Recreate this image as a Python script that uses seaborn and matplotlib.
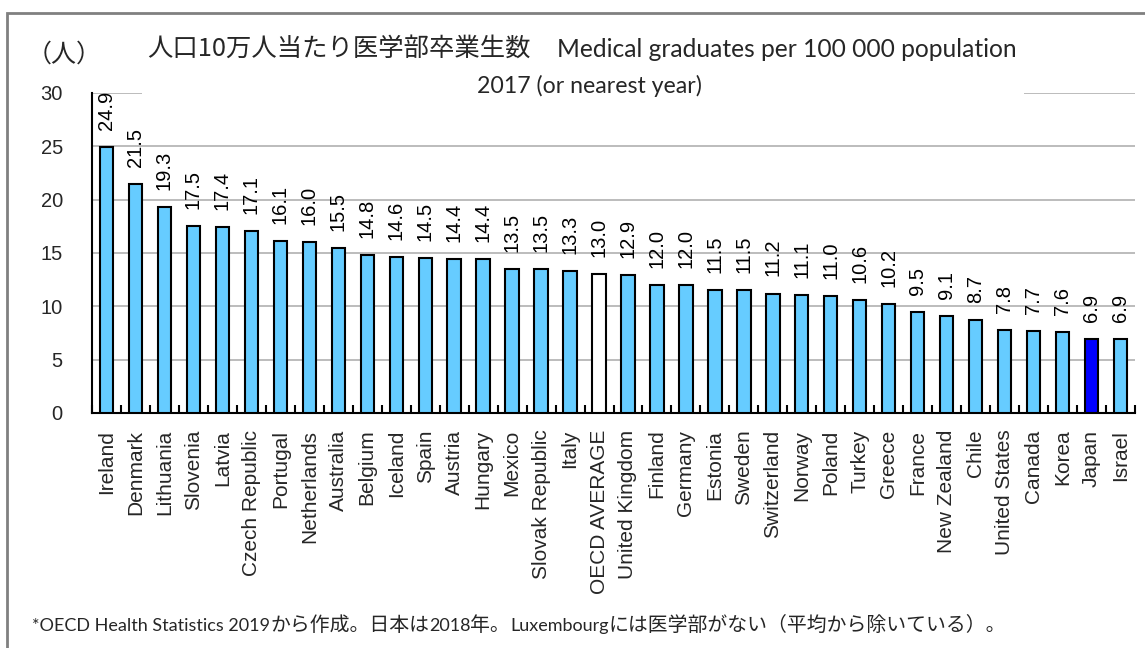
import matplotlib
matplotlib.use("Agg")
import matplotlib.pyplot as plt
import seaborn as sns
import numpy as np
import pandas as pd
from matplotlib.patches import Rectangle
from matplotlib.ticker import FixedLocator

countries = ["Ireland", "Denmark", "Lithuania", "Slovenia", "Latvia", "Czech Republic",
             "Portugal", "Netherlands", "Australia", "Belgium", "Iceland", "Spain",
             "Austria", "Hungary", "Mexico", "Slovak Republic", "Italy", "OECD AVERAGE",
             "United Kingdom", "Finland", "Germany", "Estonia", "Sweden", "Switzerland",
             "Norway", "Poland", "Turkey", "Greece", "France", "New Zealand", "Chile",
             "United States", "Canada", "Korea", "Japan", "Israel"]
values = [24.9, 21.5, 19.3, 17.5, 17.4, 17.1, 16.1, 16.0, 15.5, 14.8, 14.6, 14.5,
          14.4, 14.4, 13.5, 13.5, 13.3, 13.0, 12.9, 12.0, 12.0, 11.5, 11.5, 11.2,
          11.1, 11.0, 10.6, 10.2, 9.5, 9.1, 8.7, 7.8, 7.7, 7.6, 6.9, 6.9]
yticks = [0, 5, 10, 15, 20, 25, 30]

title_jp = "人口10万人当たり医学部卒業生数"
title_en = "Medical graduates per 100 000 population"
title2 = "2017 (or nearest year)"
unit = "（人）"
note_parts = ["*OECD Health Statistics 2019", "から作成。日本は", "2018", "年。",
              "Luxembourg", "には医学部がない（平均から除いている）。"]

sns.set_theme(style="white")
plt.rcParams['font.family'] = ['Liberation Sans', 'Noto Sans CJK JP', 'DejaVu Sans']

colors = {c: "#66CCFF" for c in countries}
colors["OECD AVERAGE"] = "#FFFFFF"
colors["Japan"] = "#0000FF"

df = pd.DataFrame({"country": countries, "value": values})

W, H = 1145, 648
fig = plt.figure(figsize=(W / 100, H / 100), dpi=100)
ax = fig.add_axes([92 / W, 1 - 413 / H, (1135 - 92) / W, (413 - 93) / H])

sns.barplot(data=df, x="country", y="value", hue="country", palette=colors,
            saturation=1, legend=False, width=0.46, edgecolor="black",
            linewidth=1.5, ax=ax, zorder=3)

ax.set_ylim(0, 30)
ax.set_xlim(-0.5, len(countries) - 0.5)
ax.set_yticks(yticks)
ax.set_yticklabels([str(t) for t in yticks], fontsize=14.5)
ax.tick_params(axis="y", length=0, pad=21)
ax.yaxis.grid(True, color="#B0B0B0", linewidth=1.2, zorder=0)
ax.set_axisbelow(True)
ax.set_xlabel("")
ax.set_ylabel("")
ax.set_xticks(range(len(countries)))
ax.set_xticklabels(countries, rotation=90, fontsize=15, va="top", ha="center")
ax.tick_params(axis="x", which="major", length=0, pad=12)
ax.xaxis.set_minor_locator(FixedLocator(np.arange(-0.5, len(countries), 1.0)))
ax.tick_params(axis="x", which="minor", direction="in", length=6, width=1.5,
               color="black", bottom=True)
for s in ["top", "right"]:
    ax.spines[s].set_visible(False)
for s in ["left", "bottom"]:
    ax.spines[s].set_color("black")
    ax.spines[s].set_linewidth(1.5)

for i, v in enumerate(values):
    ax.text(i, v + 1.6, f"{v:.1f}", rotation=90, ha="center", va="bottom",
            fontsize=14.5, color="black", zorder=5)

# white box behind title hiding gridline
fig.patches.append(Rectangle((142 / W, 1 - 105 / H), (1024 - 142) / W, 85 / H,
                             transform=fig.transFigure, facecolor="white",
                             edgecolor="none", zorder=2))
# outer frame
fig.patches.append(Rectangle((7 / W, -0.05), 1.2, 1 - 13 / H + 0.05,
                             transform=fig.transFigure, facecolor="none",
                             edgecolor="#808080", linewidth=2, zorder=3))

renderer = fig.canvas.get_renderer()
lat = ['Lato', 'Noto Sans CJK JP']
cjk = ['Noto Sans CJK JP', 'Lato']


def fitted(x_px, base_px, s, target_w, family, ha="left"):
    t = fig.text(x_px / W, 1 - base_px / H, s, ha=ha, va="baseline",
                 fontsize=10, family=family, zorder=4)
    w = t.get_window_extent(renderer).width
    t.set_fontsize(10 * target_w / w)
    return t


fitted(147, 56, title_jp, 383, cjk)
fitted(1017, 57, title_en, 460, lat, ha="right")
fitted(589.5, 93, title2, 225, lat, ha="center")
fig.text(64 / W, 1 - 62 / H, unit, ha="center", va="baseline", fontsize=18,
         family=cjk, zorder=4)

# footnote: chained pieces (Latin / CJK alternate)
x = 32
for k, part in enumerate(note_parts):
    fam = lat if k % 2 == 0 else cjk
    size = 13 if k % 2 == 0 else 14.3
    t = fig.text(x / W, 1 - 631 / H, part, ha="left", va="baseline",
                 fontsize=size, family=fam, zorder=4)
    x = t.get_window_extent(renderer).x1

fig.savefig("out.png", dpi=100, facecolor="white")
